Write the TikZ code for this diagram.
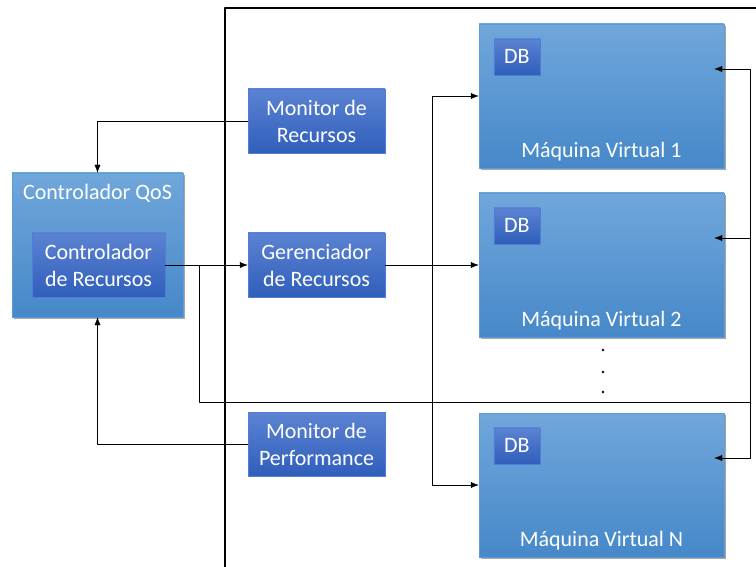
\documentclass[tikz,border=0pt]{standalone}
\usepackage{fontspec}
\setmainfont{Carlito}
\usetikzlibrary{arrows.meta,shadows,positioning}
\definecolor{vmtop}{RGB}{112,167,219}
\definecolor{vmbot}{RGB}{70,136,201}
\definecolor{vmedge}{RGB}{95,155,215}
\definecolor{blktop}{RGB}{92,131,210}
\definecolor{blkbot}{RGB}{47,94,187}
\definecolor{blkedge}{RGB}{80,125,215}
\newcommand\txtfont{\fontsize{22}{27}\selectfont}
\tikzset{
  boxshadow/.style={drop shadow={shadow xshift=1.5pt,shadow yshift=-2pt,fill=black,opacity=0.35}},
  vmbox/.style={draw=vmedge,top color=vmtop,bottom color=vmbot,minimum width=245pt,minimum height=144pt,inner sep=0pt,boxshadow},
  blkbox/.style={draw=blkedge,top color=blktop,bottom color=blkbot,text=white,align=center,minimum width=137pt,minimum height=64pt,inner sep=0pt,font=\txtfont},
  dbbox/.style={blkbox,minimum width=46pt,minimum height=36pt},
  whitetxt/.style={text=white,font=\txtfont,inner sep=0pt},
}
\begin{document}
\begin{tikzpicture}[x=1pt,y=-1pt,>={Latex[length=8pt,width=6pt]},line join=round]
	\useasboundingbox (0,0) rectangle (756,567);
	%moldura
	\draw[line width=1.5pt] (225,567)--(225,8)--(756,8);
	%controlador QoS
	\node[vmbox,minimum width=171pt,minimum height=144pt] (qos) at (97.5,245) {};
	\node[whitetxt] (qostxt) at (97.5,193) {Controlador QoS};
	\node[blkbox,minimum width=133pt] (ctrlres) at (98.5,265) {Controlador\\de Recursos};
	%monitores e gerenciador
	\node[blkbox] (monres) at (316.5,121) {Monitor de\\Recursos};
	\node[blkbox] (gerres) at (316.5,265) {Gerenciador\\de Recursos};
	\node[blkbox] (monperf) at (316.5,444.5) {Monitor de\\Performance};
	%maquinas virtuais
	\foreach \n/\y/\t in {vm1/96/1,vm2/265/2,vmN/485/N}{
		\node[vmbox] (\n) at (601.5,\y) {};
		\node[dbbox] (\n db) at ([xshift=38pt,yshift=-33pt]\n.north west) {DB};
		\node[whitetxt] (\n txt) at ([yshift=17pt]\n.south) {Máquina Virtual \t};
		\coordinate (\n in) at ([xshift=-10pt,yshift=27pt]\n.east);
	}
	%pontinhos
	\foreach \y in {350,372,392}
		\fill (603,\y) circle (1.3);
	%setas
	\draw[->] (monres.west) -| (qos.north);
	\draw[->] (monperf.west) -| (qos.south);
	\draw[->] (ctrlres.east) -- (gerres.west);
	\draw[->] (gerres.east) -- (vm2.west);
	\coordinate (gsplit) at (432,265);
	\draw[->] (gsplit) |- (vm1.west);
	\draw[->] (gsplit) |- (vmN.west);
	\coordinate (csplit) at (199,265);
	\coordinate (rbus) at (750,402);
	\draw (csplit) |- (rbus);
	\draw[->] (rbus) |- (vm1in);
	\draw[->] (rbus) |- (vm2in);
	\draw[->] (rbus) |- (vmNin);
\end{tikzpicture}
\end{document}
